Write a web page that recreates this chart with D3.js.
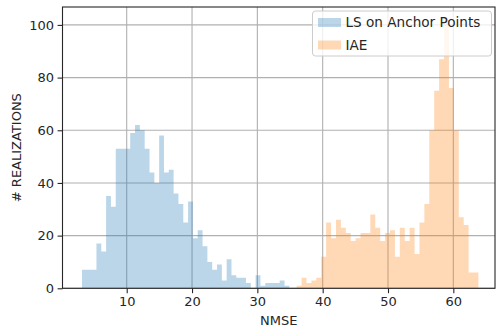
<!DOCTYPE html>
<html>
<head>
<meta charset="utf-8">
<script src="https://cdn.jsdelivr.net/npm/d3@7"></script>
<style>
  body { margin: 0; background: #fff; }
  svg text { font-family: "DejaVu Sans", sans-serif; fill: #262626; }
</style>
</head>
<body>
<svg id="chart" width="496" height="326"></svg>
<script>
// histogram counts
var lsRange = [3.155, 34.90];
var lsCounts = [7, 7, 7, 17, 14, 35, 31, 53, 53, 53, 59, 62, 60, 53, 44, 40, 58, 44, 45, 36,
    32, 25, 33, 19, 22, 16, 10, 7, 9, 3, 11, 5, 4, 4, 2, 0, 5, 1, 2, 2, 2, 3, 1];

var iaeRange = [36.02, 63.84];
var iaeCounts = [1, 4, 2, 3, 4, 12, 25, 19, 26, 23, 21, 18, 19, 21, 21, 28, 23, 18, 21, 22,
    12, 23, 18, 23, 13, 25, 32, 60, 75, 87, 102, 76, 60, 27, 24, 6, 6];

var seriesNames = ["LS on Anchor Points", "IAE"];
var xTicks = [10, 20, 30, 40, 50, 60];
var yTicks = [0, 20, 40, 60, 80, 100];

var svg = d3.select("#chart"),
    margin = {top: 7, right: 1, bottom: 37.7, left: 62.5},
    width = +svg.attr("width") - margin.left - margin.right,
    height = +svg.attr("height") - margin.top - margin.bottom;

var x = d3.scaleLinear().domain([0.171, 66.38]).range([0, width]),
    y = d3.scaleLinear().domain([0, 106.8]).range([height, 0]);

var colors = ["#1f77b4", "#ff7f0e"];

var g = svg.append("g")
    .attr("transform", "translate(" + margin.left + "," + margin.top + ")");

// grid
g.append("g").selectAll("line").data(xTicks).enter().append("line")
    .attr("x1", function (d) { return x(d); }).attr("x2", function (d) { return x(d); })
    .attr("y1", 0).attr("y2", height)
    .attr("stroke", "#b0b0b0").attr("stroke-width", 1.1);
g.append("g").selectAll("line").data(yTicks).enter().append("line")
    .attr("x1", 0).attr("x2", width)
    .attr("y1", function (d) { return y(d); }).attr("y2", function (d) { return y(d); })
    .attr("stroke", "#b0b0b0").attr("stroke-width", 1.1);

function toBins(range, counts) {
    var w = (range[1] - range[0]) / counts.length;
    return counts.map(function (c, i) {
        return {x0: range[0] + i * w, x1: range[0] + (i + 1) * w, n: c};
    });
}

var series = [toBins(lsRange, lsCounts), toBins(iaeRange, iaeCounts)];

// bars drawn as one stepped area per series, like matplotlib's hist
series.forEach(function (bins, k) {
    var pts = [];
    bins.forEach(function (b) {
        pts.push([b.x0, b.n]);
        pts.push([b.x1, b.n]);
    });
    var area = d3.area()
        .x(function (d) { return x(d[0]); })
        .y0(y(0))
        .y1(function (d) { return y(d[1]); });
    g.append("path")
        .datum(pts)
        .attr("d", area)
        .attr("fill", colors[k])
        .attr("fill-opacity", 0.3);
});

// axes
var xAxis = d3.axisBottom(x).tickValues(xTicks).tickSize(4.9).tickPadding(3.5).tickFormat(d3.format("d"));
var yAxis = d3.axisLeft(y).tickValues(yTicks).tickSize(4.9).tickPadding(3.5).tickFormat(d3.format("d"));

var gx = g.append("g").attr("transform", "translate(0," + height + ")").call(xAxis);
var gy = g.append("g").call(yAxis);
[gx, gy].forEach(function (a) {
    a.select(".domain").remove();
    a.selectAll(".tick line").attr("stroke", "#262626").attr("stroke-width", 1.1);
    a.selectAll(".tick text").attr("font-size", 13).attr("fill", "#262626")
        .attr("font-family", "DejaVu Sans");
});

// frame
g.append("rect")
    .attr("x", 0).attr("y", 0).attr("width", width).attr("height", height)
    .attr("fill", "none").attr("stroke", "#262626").attr("stroke-width", 1.1);

// labels
svg.append("text")
    .attr("x", margin.left + width / 2).attr("y", 324.5)
    .attr("text-anchor", "middle").attr("font-size", 13)
    .text("NMSE");
svg.append("text")
    .attr("transform", "translate(20.5," + (margin.top + height / 2) + ") rotate(-90)")
    .attr("text-anchor", "middle").attr("font-size", 13)
    .text("# REALIZATIONS");

// legend
var lg = svg.append("g").attr("transform", "translate(312.5,11)");
lg.append("rect")
    .attr("width", 179).attr("height", 45).attr("rx", 3)
    .attr("fill", "#fff").attr("fill-opacity", 0.8)
    .attr("stroke", "#cccccc").attr("stroke-width", 1);
seriesNames.forEach(function (name, i) {
    var row = lg.append("g").attr("transform", "translate(0," + (11.5 + i * 22.5) + ")");
    row.append("rect")
        .attr("x", 5.5).attr("y", -4.5).attr("width", 23).attr("height", 9)
        .attr("fill", colors[i]).attr("fill-opacity", 0.3);
    row.append("text")
        .attr("x", 33).attr("dy", "0.36em").attr("font-size", 13.6)
        .text(name);
});
</script>
</body>
</html>
